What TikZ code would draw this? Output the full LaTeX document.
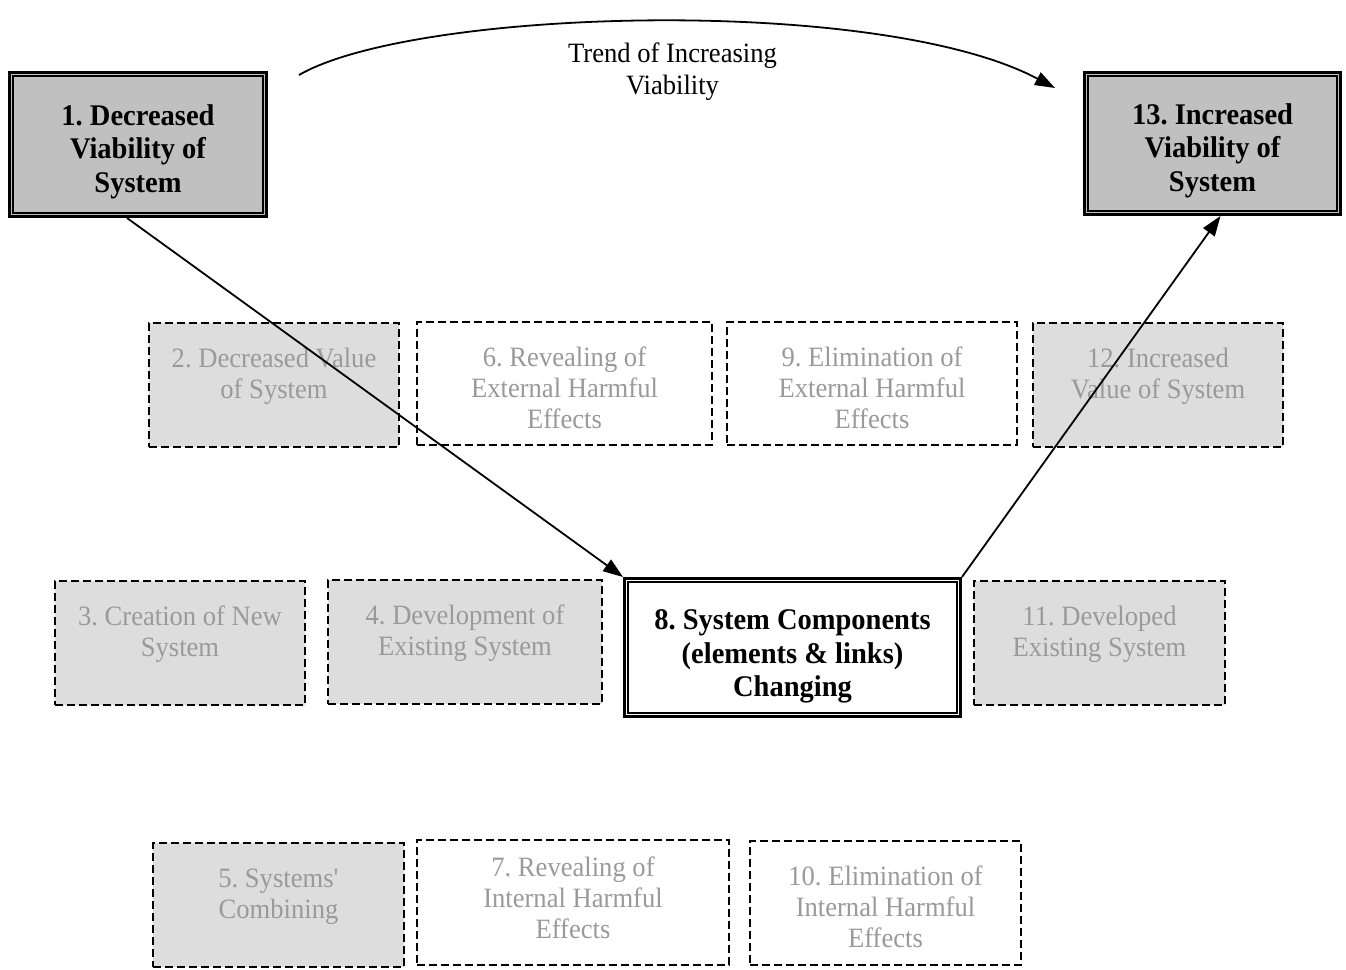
\documentclass[tikz,border=0pt]{standalone}
\usepackage{fontspec}
\setmainfont{Liberation Serif}[FakeStretch=0.95]
\usetikzlibrary{arrows.meta,calc}
\frenchspacing

\definecolor{strongfill}{HTML}{C0C0C0}
\definecolor{softfill}{HTML}{DDDDDD}
\definecolor{softtext}{HTML}{9A9A9A}

% text block of a dashed stage box: top aligned inside a fixed-height frame
\newcommand{\stagetext}[3][78]{\parbox[c][#1pt][t]{#2pt}{\centering\strut #3}}
% text block of a framed state, lowered a little below the centre
\newcommand{\keytext}[3][7]{\raisebox{-#1pt}[\height][\depth]{\parbox{#2pt}{\centering #3}}}

\tikzset{
  stage/.style={draw, line width=2pt, dash pattern=on 8pt off 4pt,
    inner sep=0pt, text=softtext, font=\fontsize{28}{31}\selectfont},
  softstage/.style={stage, fill=softfill},
  keystage/.style={draw, line width=3pt, inner sep=0pt,
    font=\bfseries\fontsize{30}{33.5}\selectfont},
  innerframe/.style={line width=1.5pt},
  flow/.style={line width=1.8pt, -{Triangle[length=20pt,width=14pt]}},
  trendlabel/.style={align=center, inner sep=0pt,
    font=\fontsize{28}{32}\selectfont}
}

\begin{document}
\begin{tikzpicture}[x=1pt,y=-1pt]
  \fill[white] (0,0) rectangle (1346,969);
  \useasboundingbox (0,0) rectangle (1346,969);

  % outer states
  \node[keystage, fill=strongfill, minimum width=257pt, minimum height=144pt]
    (b1) at (138,144.5) {\keytext{245}{1. Decreased\\Viability of\\System}};
  \node[keystage, fill=strongfill, minimum width=256pt, minimum height=142pt]
    (b13) at (1212.5,143.5) {\keytext{245}{13. Increased\\Viability of\\System}};

  % central state
  \node[keystage, fill=white, minimum width=336pt, minimum height=138pt]
    (b8) at (792.5,647.5) {\keytext[9]{325}{8. System Components\\(elements \& links)\\Changing}};

  % inner lines of the double frames
  \foreach \n in {b1,b13,b8}
    \draw[innerframe] ($(\n.south west)+(5,-5)$) rectangle ($(\n.north east)+(-5,5)$);

  % first row of stages
  \node[softstage, minimum width=250pt, minimum height=124pt] (b2) at (274,385)
    {\stagetext{240}{2. Decreased Value\\of System}};
  \node[stage, minimum width=295pt, minimum height=123pt] (b6) at (564.5,383.5)
    {\stagetext{285}{6. Revealing of\\External Harmful\\Effects}};
  \node[stage, minimum width=290pt, minimum height=123pt] (b9) at (872,383.5)
    {\stagetext{280}{9. Elimination of\\External Harmful\\Effects}};
  \node[softstage, minimum width=250pt, minimum height=124pt] (b12) at (1158,385)
    {\stagetext{240}{12. Increased\\Value of System}};

  % second row of stages
  \node[softstage, minimum width=250pt, minimum height=124pt] (b3) at (180,643)
    {\stagetext{240}{3. Creation of New\\System}};
  \node[softstage, minimum width=274pt, minimum height=124pt] (b4) at (465,642)
    {\stagetext{264}{4. Development of\\Existing System}};
  \node[softstage, minimum width=251pt, minimum height=124pt] (b11) at (1099.5,643)
    {\stagetext{241}{11. Developed\\Existing System}};

  % third row of stages
  \node[softstage, minimum width=251pt, minimum height=124pt] (b5) at (278.5,905)
    {\stagetext{241}{5. Systems\textquotesingle\\Combining}};
  \node[stage, minimum width=312pt, minimum height=125pt] (b7) at (573,902.5)
    {\stagetext[96]{302}{7. Revealing of\\Internal Harmful\\Effects}};
  \node[stage, minimum width=271pt, minimum height=124pt] (b10) at (885.5,903)
    {\stagetext{261}{10. Elimination of\\Internal Harmful\\Effects}};

  % trend arc
  \coordinate (trendstart) at (299,75);
  \coordinate (trendend) at (1055,88);
  \draw[flow] (trendstart) .. controls (415,8) and (880,-5) .. (trendend);
  \node[trendlabel] (trend) at (672.5,72) {Trend of Increasing\\Viability};

  % path through the system change
  \draw[flow] ($(b1.south)+(-11,0)$) -- (b8.north west);
  \draw[flow] (b8.north east) -- ($(b13.south)+(8,0)$);
\end{tikzpicture}
\end{document}
